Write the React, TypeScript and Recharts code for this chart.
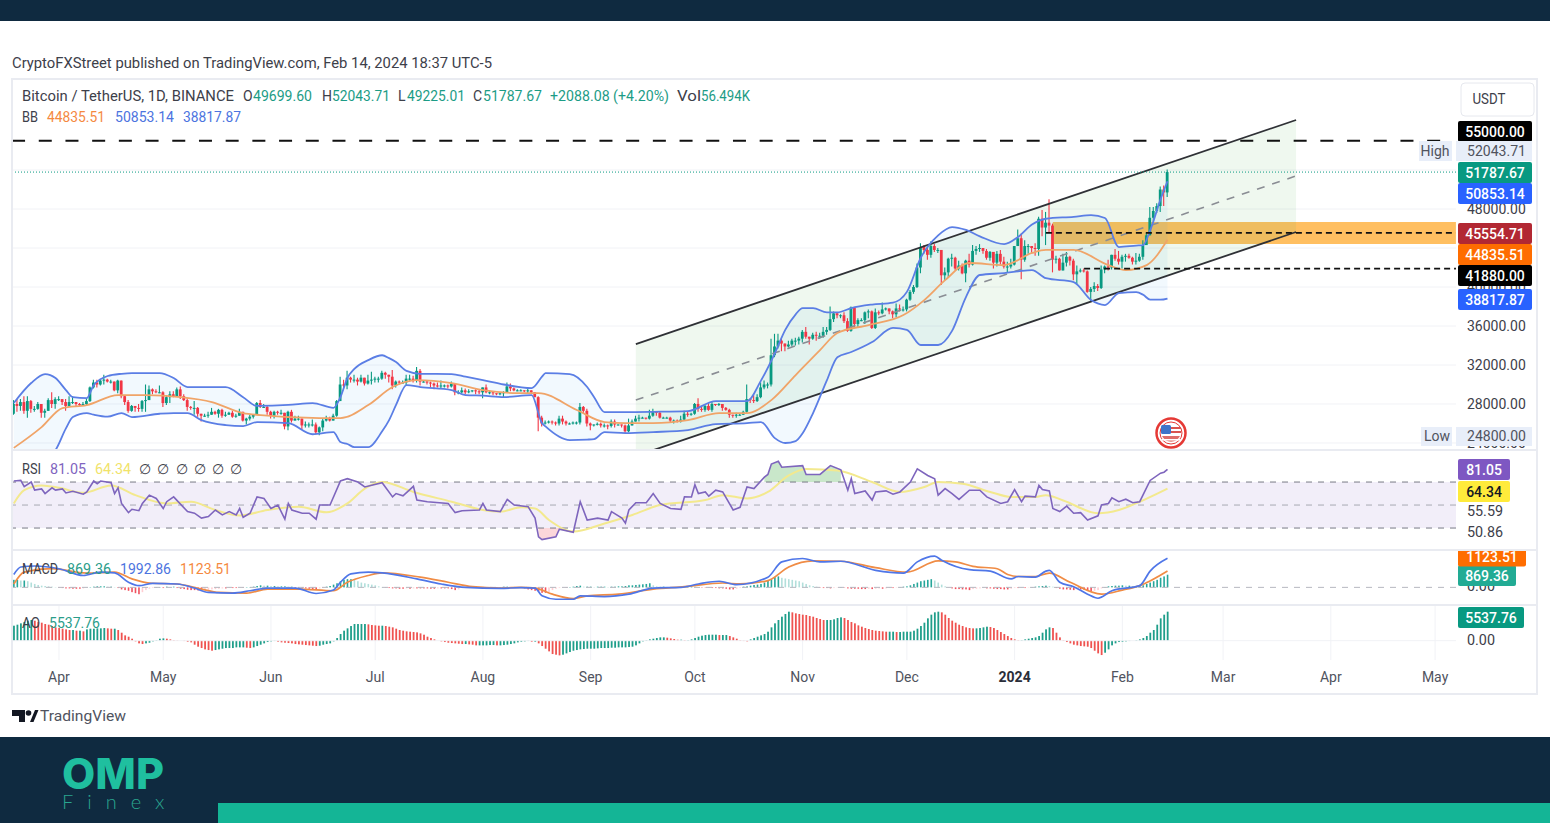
import React from "react";
import { ComposedChart, Line, Area, Bar, XAxis, YAxis, CartesianGrid, ReferenceLine, ReferenceArea } from "recharts";

// ---------- candles, thousands of USDT, one line per month (Mar 19 2023 .. Feb 14 2024)
const firstOpen = 27.0;
const closes = [
  28.0,27.8,28.2,27.3,28.3,27.5,27.5,28.0,27.1,27.3,28.4,28.0,28.5,
  28.5,28.2,27.8,28.2,28.2,28.0,27.9,28.0,28.3,29.7,30.2,30.0,30.4,30.5,30.3,30.3,29.4,30.4,28.8,28.2,27.3,27.8,27.6,27.5,28.3,28.4,29.5,29.3,29.2,29.2,
  28.1,28.7,29.0,28.8,29.5,28.8,28.4,27.7,27.6,27.6,27.0,26.8,26.8,26.9,27.2,27.0,27.4,26.8,26.9,27.1,26.7,26.8,27.2,26.3,26.5,26.7,26.9,28.1,27.7,27.7,27.2,
  26.8,27.2,27.1,27.1,25.7,27.2,26.3,26.5,26.5,25.8,25.9,25.9,25.9,25.1,25.6,26.3,26.5,26.3,26.8,28.3,30.0,29.9,30.7,30.5,30.5,30.3,30.7,30.1,30.4,30.5,
  30.6,30.6,31.2,31.0,30.8,29.9,30.3,30.2,30.2,30.6,30.6,30.4,31.4,30.3,30.3,30.2,30.1,29.9,29.8,29.9,29.9,29.8,30.1,29.2,29.2,29.4,29.2,29.3,29.4,29.3,29.2,
  29.7,29.2,29.2,29.1,29.0,29.1,29.2,29.8,29.6,29.4,29.4,29.4,29.3,29.4,29.2,28.7,26.6,26.0,26.1,26.2,26.1,26.0,26.5,26.2,26.0,26.0,26.1,26.1,27.7,27.3,26.0,
  25.8,25.9,25.97,25.8,25.8,25.75,26.2,25.9,25.9,25.8,25.2,25.8,26.2,26.5,26.6,26.6,26.5,26.8,27.2,27.1,26.6,26.6,26.6,26.3,26.3,26.2,26.4,27.0,26.9,27.0,
  28.0,27.5,27.4,27.8,27.4,28.0,27.9,28.0,27.6,27.4,26.9,26.8,26.9,26.9,27.2,28.5,28.4,28.3,28.7,29.7,30.0,30.0,33.0,33.9,34.5,34.2,33.9,34.1,34.5,34.5,34.7,
  35.4,34.9,34.7,35.1,35.0,35.0,35.4,35.6,36.7,37.3,37.1,37.1,36.5,35.5,37.9,36.2,36.6,36.6,37.4,37.5,35.8,37.4,37.3,37.7,37.8,37.5,37.2,37.8,37.7,37.7,
  38.7,39.5,40.0,42.0,44.1,43.8,43.3,44.2,43.8,43.8,41.2,41.5,42.9,43.0,41.9,42.2,41.4,42.7,42.3,43.7,43.9,44.0,43.7,43.0,43.6,42.5,43.4,42.6,42.1,42.1,42.3,
  44.2,45.0,42.8,44.2,44.2,44.0,43.9,47.0,46.1,46.6,46.3,42.8,42.9,41.7,42.5,43.1,42.7,41.3,41.6,41.7,41.6,39.5,39.8,40.1,39.9,41.8,42.1,42.0,43.3,42.9,42.6,
  43.1,43.2,43.0,42.6,42.7,43.1,44.3,45.3,47.1,47.8,48.3,50.0,49.7,51.79,
];
const highs = [
  28.4,28.5,28.5,28.8,28.8,28.4,27.8,28.2,28.0,27.5,28.6,29.2,28.7,
  28.8,28.5,28.5,28.8,28.8,28.2,28.1,28.2,28.5,29.8,30.5,30.5,30.6,31.0,30.6,30.5,30.3,30.5,30.4,28.9,28.4,27.9,27.8,28.0,28.4,30.0,29.9,29.6,29.5,29.9,
  29.3,28.9,29.3,29.3,29.7,29.8,29.0,28.6,27.8,28.3,27.7,27.0,27.0,27.2,27.6,27.3,27.5,27.5,27.2,27.2,27.3,27.0,27.5,27.2,26.6,26.9,26.9,28.2,28.4,28.0,27.8,
  27.3,27.3,27.3,27.4,27.1,27.3,27.4,26.8,26.8,26.5,26.2,26.1,26.4,26.1,25.7,26.5,26.8,26.7,27.0,28.4,30.8,30.5,31.4,30.8,31.0,30.7,31.0,30.7,31.0,31.3,
  30.8,30.8,31.4,31.3,31.0,31.5,30.4,30.4,30.4,31.0,31.0,30.9,31.8,31.6,30.4,30.4,30.3,30.2,30.2,30.4,30.0,30.0,30.3,30.1,29.4,29.7,29.6,29.5,29.4,29.5,29.5,
  29.7,30.0,29.4,29.3,29.1,29.2,29.3,30.2,30.1,29.7,29.5,29.5,29.4,29.7,29.4,29.2,28.8,26.8,26.3,26.3,26.3,26.2,26.8,26.8,26.3,26.1,26.2,26.2,28.1,27.8,27.5,
  26.1,25.9,26.1,26.1,26.0,25.9,26.4,26.4,25.9,25.9,25.9,26.5,26.4,26.8,26.9,26.7,26.6,27.4,27.5,27.2,27.2,26.7,26.7,26.7,26.4,26.4,26.8,27.3,27.2,27.1,
  28.1,28.6,27.7,27.9,28.1,28.3,28.0,28.1,28.0,27.7,27.5,26.9,27.1,27.0,27.3,30.0,28.6,28.9,29.0,30.2,30.4,30.2,34.7,35.2,35.2,34.8,34.2,34.5,34.7,34.8,34.9,
  35.6,35.9,34.9,35.3,35.4,35.3,35.9,35.9,38.0,37.5,37.4,37.2,37.4,36.8,38.0,37.9,36.8,36.8,37.5,37.7,37.6,37.8,37.6,38.4,37.9,37.8,37.6,38.3,38.2,38.0,
  38.8,39.7,40.2,42.4,44.5,44.3,44.0,44.7,44.4,44.0,43.8,42.0,43.0,43.4,43.1,42.7,42.4,42.8,43.4,44.3,44.2,44.4,44.0,43.9,43.7,43.6,43.7,43.8,43.1,42.6,42.9,
  44.2,45.9,45.5,44.8,44.4,44.2,44.5,47.2,47.9,47.7,49.0,46.5,43.2,43.0,43.4,43.6,43.2,42.9,42.2,41.9,41.9,41.7,40.0,40.5,40.3,42.2,42.2,42.8,43.3,43.9,43.7,
  43.3,43.4,43.4,43.1,43.5,43.4,44.8,45.6,48.2,48.2,48.6,50.3,50.4,52.04,
];
const lows = [
  26.9,27.2,27.3,27.0,26.6,27.1,27.2,27.4,26.6,26.6,27.3,27.6,27.5,
  28.3,27.9,27.3,27.7,28.0,27.7,27.8,27.9,27.9,28.2,29.6,29.7,29.9,30.0,30.2,30.1,29.3,29.1,28.6,27.9,27.1,27.2,27.2,27.2,27.2,27.2,28.4,29.0,29.1,29.1,
  27.7,27.9,28.1,28.7,28.8,28.5,28.3,27.3,27.4,26.9,26.7,26.2,26.7,26.6,26.9,26.9,26.6,26.6,26.7,26.9,26.6,26.6,26.8,26.2,25.9,26.3,26.5,26.9,27.6,27.6,26.9,
  26.5,26.5,26.9,26.9,25.4,25.3,26.1,26.3,26.3,25.4,25.6,25.6,25.7,24.9,24.8,25.2,26.2,26.2,26.3,26.7,28.3,29.6,29.5,30.2,30.2,29.9,30.2,29.9,30.0,30.0,
  30.2,30.2,30.5,30.6,30.2,29.5,29.7,30.0,30.1,29.9,30.3,30.2,30.2,29.9,30.2,30.0,29.7,29.5,29.7,29.6,29.7,29.6,29.7,28.9,29.0,29.1,29.0,29.1,29.2,29.0,29.0,
  28.6,29.1,29.0,28.9,28.9,28.9,28.7,29.2,29.3,29.3,29.3,29.3,29.2,29.1,29.1,28.7,25.2,25.7,25.9,26.0,25.9,25.8,25.8,25.9,25.8,25.9,25.9,25.9,25.9,27.0,25.7,
  25.3,25.7,25.8,25.6,25.6,25.4,25.6,25.6,25.8,25.6,25.0,25.1,25.8,26.2,26.2,26.5,26.4,26.4,26.7,26.8,26.5,26.5,26.5,26.1,26.0,26.1,26.1,26.3,26.7,26.8,
  26.9,27.2,27.2,27.2,27.3,27.2,27.8,27.8,27.3,27.3,26.6,26.6,26.6,26.8,26.9,27.1,28.1,28.1,28.2,28.6,29.5,29.6,29.8,32.8,33.7,33.4,33.4,33.8,33.9,34.0,34.1,
  34.3,34.7,34.1,34.6,34.5,34.7,34.8,35.1,35.5,36.4,36.8,36.8,36.3,35.4,35.4,35.9,35.9,36.5,36.2,36.8,35.7,35.7,37.1,37.2,37.6,37.2,36.8,36.9,37.5,37.5,
  37.5,38.6,39.3,39.9,41.4,43.4,42.8,43.0,43.6,43.5,40.2,40.7,41.0,42.1,41.7,41.7,41.3,40.5,42.0,42.2,43.3,43.6,43.4,42.8,42.7,41.9,42.1,42.3,41.9,41.5,41.9,
  42.2,44.2,40.8,42.6,43.4,43.4,43.2,43.2,45.2,44.3,45.6,41.5,42.4,41.7,41.7,42.1,42.2,40.7,40.3,41.5,41.5,39.4,38.5,39.5,39.6,39.8,41.4,41.7,41.8,42.7,42.3,
  41.9,42.6,42.9,42.3,42.3,42.6,42.8,44.3,45.3,46.8,47.6,47.7,48.3,49.23,
];

// ---------- Bollinger, read at these day numbers (0 = Mar 19 2023)
const bbDays = [0,5,9,12,15,17,21,23,27,31,34,42,46,50,54,61,66,70,79,86,92,94,96,98,102,106,108,110,113,117,126,130,135,141,149,152,153,160,165,167,170,176,184,194,202,211,215,219,222,225,227,230,234,237,241,247,253,257,261,266,270,274,278,285,289,293,297,305,310,314,318,323,325,327,330,332];
const bbUpper = [28.1,30.15,31.07,30.66,29.43,28.7,28.6,29.94,30.87,31.1,31.17,31.17,30.66,29.74,29.74,29.74,28.7,27.8,27.9,28.1,27.6,28.7,30.66,31.6,32.5,33.0,32.7,32.3,31.4,31.1,31.07,30.8,30.45,30.0,29.63,30.8,31.17,31.07,29.74,28.7,27.17,27.17,27.2,27.27,28.3,28.3,30.4,33.2,35.6,37.2,37.84,37.84,37.4,37.4,37.84,38.2,38.4,39.5,43.0,45.3,46.15,45.85,45.2,44.4,45.13,46.4,47.0,47.2,47.38,47.08,44.1,44.25,44.3,45.8,49.0,50.85];
const bbLower = [21.0,21.6,22.4,23.27,25.5,26.66,27.07,26.9,26.7,27.07,26.66,27.0,27.07,27.07,26.35,25.84,25.74,26.15,26.04,24.9,25.12,24.1,23.9,23.58,23.58,25.2,26.35,27.9,29.94,29.74,29.43,28.92,28.85,28.71,28.92,26.04,25.7,24.3,24.35,24.4,25.12,25.02,25.12,25.33,25.94,26.04,26.15,24.5,24.0,24.2,25.0,27.07,30.45,32.8,33.33,34.35,35.8,35.6,34.05,34.05,35.5,38.97,41.23,41.43,41.6,41.74,40.9,40.5,38.66,38.15,39.38,39.48,39.2,38.7,38.7,38.82];
const basisDays = [0,8,14,21,30,38,48,57,66,71,88,94,102,109,116,126,135,145,151,162,170,176,184,194,203,211,218,225,232,237,246,256,262,268,275,285,293,297,305,315,320,326,332];
const basisValues = [23.5,25.63,27.58,27.89,28.92,28.92,28.71,28.2,27.07,26.86,26.56,26.56,27.89,29.74,30.45,30.15,29.43,29.12,29.12,27.38,26.15,26.04,26.04,26.35,27.07,27.07,28.4,30.97,33.53,35.28,36.1,37.12,38.66,40.7,42.46,42.25,43.49,43.8,43.8,42.25,41.74,42.25,44.84];

// ---------- drawn channel and levels
const channelDays = [179, 369];
const channelUpper = [34.15, 57.13];
const channelMiddle = [28.4, 51.39];
const channelLower = [22.66, 45.64];
const resistanceLevel = 55000;
const lastClose = 51787.67;
const midLevel = 45554.71;
const supportLevel = 41880;
const zoneTop = 46670;
const zoneBottom = 44410;

// ---------- RSI
const rsiDays = [0,2,3,5,6,8,9,11,12,14,15,17,20,21,23,24,25,28,29,30,31,33,34,36,37,39,41,43,44,46,50,52,54,56,58,60,62,64,65,66,68,70,72,74,76,78,79,80,83,85,87,88,91,94,96,99,101,106,109,110,112,115,116,119,125,127,129,134,135,136,140,142,144,148,150,151,152,156,157,161,163,165,168,171,172,175,176,177,179,182,184,186,189,192,193,195,196,197,199,200,202,204,207,209,211,213,216,217,218,220,221,227,228,232,235,238,240,241,242,245,247,248,251,253,255,258,260,263,265,266,268,270,272,275,278,280,284,286,288,290,291,294,295,296,298,299,301,303,305,307,309,312,313,315,316,318,320,322,324,327,330,331,332];
const rsiValues = [70.9,71.4,66,70,63,64,60,65,63,64,60.5,62,59.4,61.4,70.9,68.6,70.9,69.4,60,65,51.4,43.4,46.3,45.1,51.4,58.6,55.7,47,52.9,57.1,44.3,42.9,38.6,40,45.7,41.4,44.3,41.4,47,39.4,42.9,57.1,55.7,47,50,37.7,51.4,45.7,42.9,42.9,37.7,50,50,70.9,72.9,70,65.7,69.4,57.1,60,58,66.3,54.3,52.9,51.4,43.4,45,45.7,51.4,45.7,44.3,54.9,50,48.6,38.6,22.3,20,22.3,29,26.3,52.9,37,38.6,37,44.3,38.6,34.3,45.7,52,52,60,51.4,47,46.3,57.1,57,67.7,60,61.4,57.7,62.9,61.4,45.7,48,65.7,64.3,74.3,76.6,85.7,88,82.9,84.3,76.6,76.6,84.3,80.6,62.9,72.9,60,62.3,54.3,61.4,62.3,59.4,61.4,70,81.4,75.7,72.9,58.6,64.3,60,54.9,62.9,62.9,57.1,51.4,52.9,63.4,52.9,57.7,57.1,67,63.4,62.3,47,44.3,49.1,42.9,43.4,37,40.6,50,51.4,56.3,52.9,55.1,52,52.9,71.4,77.7,78.6,81.05];
const rsiMaDays = [0,3,8,13,20,28,35,44,51,58,65,73,82,90,96,101,106,115,126,135,140,146,150,154,161,170,178,186,199,204,211,217,223,228,237,247,255,262,266,273,281,287,294,297,302,312,318,324,332];
const rsiMaValues = [51.4,62.9,67,65,60.6,67,58.6,51.4,52.9,45.7,40.9,45.7,48.6,43.7,51.4,64.3,70,61.4,52.9,45.7,44.3,48,47,37,27,34,41.4,50,54.3,58.6,55.7,61.4,75.7,81.4,80,70,61.4,65.7,70,68.6,61.4,57,57,58.6,54,42.9,45.7,52.9,64.34];

// ---------- MACD
const macdDays = [0,2,6,13,20,25,29,33,36,40,47,52,56,63,68,73,81,87,92,94,97,102,106,116,123,130,140,146,150,152,156,161,163,170,177,184,192,197,203,208,217,221,227,232,238,248,256,260,265,267,275,281,287,289,294,297,298,301,305,309,312,316,324,327,332];
const macdValues = [885,1398,1468,1280,815,1048,1000,350,116,280,233,-47,-350,-396,-233,-47,-47,-420,-186,350,930,1048,1000,582,233,0,-70,-20,-47,-580,-815,-815,-580,-630,-466,-47,0,233,420,186,700,1750,1980,1750,1794,1165,980,1750,2144,1864,1212,1118,582,746,700,1118,1165,350,47,-466,-745,-233,117,1118,1992.86];
const signalDays = [0,3,11,21,29,34,39,47,54,59,67,73,82,92,96,102,106,117,125,132,140,146,150,155,161,165,174,184,193,204,209,217,223,230,238,248,257,266,271,276,283,286,289,294,298,304,313,319,324,332];
const signalValues = [233,1048,1280,978,1048,582,300,233,-116,-350,-396,-116,-116,-233,350,815,1000,700,350,47,-47,0,-47,-466,-770,-580,-466,-116,47,300,233,466,1398,1817,1794,1350,1048,1817,1747,1445,1280,885,746,746,978,350,-466,-186,117,1123.51];
const histUnit = 23.5;
const histReadings = [
  22,22,20,20,18,14,10,7,5,4, 3,2,1,-1,-2,-3,-3,-4,-4,-4, -3,-1,1,2,3,3,3,2,2,1, -2,-6,-8,-10,-14,-17,-20,-14,-8,-4,
  -2,1,1,-2,2,1,2,-2,-4,-5, -7,-8,-8,-9,-10,-8,-7,-6,-5,-4, -3,-3,-2,-2,-2,-1,-1,1,1,2, 4,6,5,5,4,4,3,3,3,2,
  2,-2,-3,-3,-3,-4,-5,-5,-3,-2, 2,4,8,12,18,22,24,24,22,18, 14,12,10,8,6,3,1,-1,-2,-3, -3,-4,-4,-3,-4,-3,-3,-3,-3,-3,
  -4,-4,-3,-3,-3,-3,-5,-8,-6,-2, -1,-1,-1,-1,-1,1,1,1,-1,-1, 1,2,2,1,1,0,-2,-3,-6,-8, -10,-12,-16,-16,-14,-8,-4,-2,-1,-1,
  1,2,4,5,2,2,2,1,2,2, 2,1,2,2,3,3,4,6,6,7, 8,9,10,12,6,3,2,2,1,1, 1,1,1,2,3,3,2,1,-1,-1,
  -1,-2,-2,-3,-3,-4,-6,-6,-4,-2, 2,3,5,7,8,10,14,20,24,30, 32,28,26,24,22,20,18,14,10,6, 4,2,-1,-2,-2,-3,-2,-1,1,-1,
  -3,-4,-4,-4,-5,-5,-4,-5,-4,-3, -4,-3,-2,-2,-1,1,2,3,6,10, 14,18,20,22,24,20,14,8,3,1, -3,-5,-5,-6,-6,-8,-5,-4,-3,-2,
  -3,-3,-4,-5,-5,-6,-6,-4,-2,-2, -1,-2,-1,1,2,3,4,5,4,2, -2,-4,-6,-6,-7,-8,-5,-6,-7,-9, -11,-10,-8,-3,1,3,4,5,5,6,
  5,5,4,4,5,6,10,14,18,22, 28,32,37,
];

// ---------- Awesome Oscillator
const aoUnit = 63.65;
const aoReadings = [
  45,48,52,56,60,62,60,56,54,50, 48,44,40,38,36,34,32,32,30,30, 28,34,36,36,37,37,38,37,36,36, 32,24,16,12,6,-2,-8,-10,-8,-6,
  -2,2,6,7,6,4,2,1,0,-1, -3,-5,-12,-18,-22,-26,-28,-30,-28,-26, -24,-22,-22,-22,-20,-20,-20,-21,-22,-20, -16,-12,-8,-4,-2,-1,-3,-5,-6,-7,
  -8,-10,-11,-12,-13,-14,-15,-16,-15,-12, -10,-8,-2,8,20,30,37,44,50,50, 50,50,49,47,46,45,45,44,42,40, 36,32,30,28,27,26,25,22,18,12,
  8,4,0,-2,-4,-6,-7,-8,-9,-10, -10,-11,-12,-14,-14,-14,-14,-13,-13,-14, -14,-13,-12,-10,-8,-5,-3,-2,-1,-3, -3,-8,-16,-24,-32,-40,-42,-44,-42,-38,
  -34,-30,-28,-26,-25,-24,-24,-24,-23,-22, -22,-22,-21,-21,-20,-20,-20,-19,-18,-14, -8,-2,2,4,6,8,10,10,9,7, 5,3,3,2,2,4,8,12,15,17,
  18,18,18,17,17,17,14,10,6,2, -1,-2,4,8,12,16,20,27,40,52, 62,72,80,87,85,82,80,78,77,74, 72,68,65,62,62,62,64,68,70,68,
  62,56,52,46,42,38,35,32,30,29, 28,27,27,27,26,26,27,27,27,30, 36,44,54,67,78,85,87,85,78,68, 60,54,48,44,40,38,37,37,38,40,
  42,41,38,32,26,20,14,8,4,2, 2,4,6,8,10,14,24,34,40,38, 24,10,2,-4,-8,-12,-14,-16,-17,-18, -22,-30,-38,-43,-36,-26,-14,-8,-4,-3,
  -2,-1,0,2,4,8,14,24,32,48, 67,78,87,
];

// ---------- axis
const monthDays = [13,43,74,104,135,166,196,227,257,288,319,348,379,409];
const monthLabels = ["Apr","May","Jun","Jul","Aug","Sep","Oct","Nov","Dec","2024","Feb","Mar","Apr","May"];
const priceTicks = [24000,28000,32000,36000,40000,44000,48000,52000];

// ---------- colours
const UP = "#089981", DOWN = "#f23645", GRID = "#f1f2f6", SEP = "#e9ebf1";
const BBLUE = "#5b7ee5", BORANGE = "#f0a468";
const DOMAIN_X: [number, number] = [-0.518, 415.02];
const K = 1000;

const newRows = () => Array.from({ length: 370 }, (_, d) => ({ d } as any));

const mainRows = newRows();
closes.forEach((c, i) => {
  const open = i === 0 ? firstOpen : closes[i - 1];
  mainRows[i].open = open * K;
  mainRows[i].close = c * K;
  mainRows[i].high = Math.max(highs[i], open, c) * K;
  mainRows[i].low = Math.min(lows[i], open, c) * K;
});
bbDays.forEach((d, i) => {
  mainRows[d].upper = bbUpper[i] * K;
  mainRows[d].lower = bbLower[i] * K;
  mainRows[d].band = [bbLower[i] * K, bbUpper[i] * K];
});
basisDays.forEach((d, i) => { mainRows[d].basis = basisValues[i] * K; });
channelDays.forEach((d, i) => {
  mainRows[d].chUp = channelUpper[i] * K;
  mainRows[d].chMid = channelMiddle[i] * K;
  mainRows[d].chLow = channelLower[i] * K;
  mainRows[d].chan = [channelLower[i] * K, channelUpper[i] * K];
});

const rsiRows = newRows();
rsiDays.forEach((d, i) => {
  rsiRows[d].rsi = rsiValues[i];
  if (d >= 216 && d <= 238 && rsiValues[i] > 70) rsiRows[d].ob = [70, rsiValues[i]];
  if (d >= 150 && d <= 157 && rsiValues[i] < 30) rsiRows[d].os = [rsiValues[i], 30];
});
rsiMaDays.forEach((d, i) => { rsiRows[d].ma = rsiMaValues[i]; });

const macdRows = newRows();
macdDays.forEach((d, i) => { macdRows[d].macd = macdValues[i]; });
signalDays.forEach((d, i) => { macdRows[d].signal = signalValues[i]; });
histReadings.forEach((h, i) => {
  const prev = i ? histReadings[i - 1] : h;
  macdRows[i].hist = h * histUnit;
  macdRows[i].color = h >= 0 ? (h >= prev ? "#26a69a" : "#b2dfdb") : (h <= prev ? "#f0525f" : "#ffcdd2");
});

const aoRows = newRows();
aoReadings.forEach((h, i) => {
  aoRows[i].ao = h * aoUnit;
  aoRows[i].color = i === 0 || h >= aoReadings[i - 1] ? "#1f9e8a" : "#ef5350";
});

const Candle = (p: any) => {
  const r = p.payload;
  if (!r || r.high == null) return null;
  const k = p.height / (r.high - r.low);
  const yo = p.y + (r.high - r.open) * k;
  const yc = p.y + (r.high - r.close) * k;
  const color = r.close >= r.open ? UP : DOWN;
  const cx = p.x + p.width / 2;
  return (
    <g>
      <line x1={cx} x2={cx} y1={p.y} y2={p.y + p.height} stroke={color} strokeWidth={1.1} />
      <rect x={p.x} y={Math.min(yo, yc)} width={p.width} height={Math.max(1, Math.abs(yo - yc))} fill={color} />
    </g>
  );
};
const ColorBar = (p: any) => {
  const r = p.payload;
  if (!r || !r.color) return null;
  return <rect x={p.x} y={Math.min(p.y, p.y + p.height)} width={p.width} height={Math.abs(p.height)} fill={r.color} />;
};

const noDot = { dot: false as const, activeDot: false as const, isAnimationActive: false, connectNulls: true };

const grid = <CartesianGrid stroke={GRID} strokeWidth={1} syncWithTicks />;
const hiddenX = <XAxis dataKey="d" type="number" domain={DOMAIN_X} allowDataOverflow ticks={monthDays} interval={0} tick={false} tickLine={false} axisLine={false} height={0} />;

const paneStyle = (top: number): React.CSSProperties => ({ position: "absolute", left: 12, top });

const T = ({ x, y, w, c = "#3d404a", s = 14, a = "start", b = 400, f = "Roboto", children }: any) => (
  <text x={x} y={y} fill={c} fontSize={s} fontFamily={f} fontWeight={b} textAnchor={a} dominantBaseline="central"
    {...(w ? { textLength: w, lengthAdjust: "spacingAndGlyphs" } : {})}>{children}</text>
);
const Badge = ({ x = 1458, y, w = 74, bg, c = "#fff", h = 21, children }: any) => (
  <g>
    <rect x={x} y={y - h / 2 + 0.5} width={w} height={h} fill={bg} rx={2} />
    <T x={x + w / 2} y={y + 0.5} a="middle" c={c} b={500}>{children}</T>
  </g>
);

const MonthTick = (p: any) => {
  const i = monthDays.indexOf(p.payload.value);
  const label = monthLabels[i];
  return (
    <text x={p.x} y={p.y + 11} textAnchor="middle" dominantBaseline="central" fontFamily="Roboto" fontSize={14}
      fontWeight={label === "2024" ? 700 : 400} fill={label === "2024" ? "#2a2e39" : "#50535e"}>{label}</text>
  );
};

const Overlay = () => (
  <svg width={1550} height={823} style={{ position: "absolute", left: 0, top: 0, pointerEvents: "none" }}>
    {/* page furniture */}
    <rect x={0} y={0} width={1550} height={21} fill="#0f2a40" />
    <rect x={0} y={737} width={1550} height={86} fill="#0f2a40" />
    <rect x={218} y={803} width={1332} height={20} fill="#14b596" />
    <T x={62} y={773} w={102} s={42} b={800} f="Inter" c="#1fbf9f">OMP</T>
    <text x={62} y={801} fill="#2aa58f" fontSize={20} fontFamily="Lato" fontWeight={300} letterSpacing={14} dominantBaseline="central">Finex</text>
    <T x={12} y={63} w={480} c="#3d404a">CryptoFXStreet published on TradingView.com, Feb 14, 2024 18:37 UTC-5</T>

    {/* frame */}
    <rect x={12} y={79} width={1525} height={615} fill="none" stroke={SEP} strokeWidth={2} />
    <line x1={12} x2={1537} y1={450} y2={450} stroke={SEP} strokeWidth={2} />
    <line x1={12} x2={1537} y1={550} y2={550} stroke={SEP} strokeWidth={2} />
    <line x1={12} x2={1537} y1={605} y2={605} stroke={SEP} strokeWidth={2} />

    {/* legends */}
    <T x={22} y={96} w={212}>Bitcoin / TetherUS, 1D, BINANCE</T>
    <T x={243} y={96}>O</T><T x={253} y={96} w={59} c="#1c9c86">49699.60</T>
    <T x={322} y={96}>H</T><T x={332} y={96} w={58} c="#1c9c86">52043.71</T>
    <T x={398} y={96}>L</T><T x={407} y={96} w={58} c="#1c9c86">49225.01</T>
    <T x={473} y={96}>C</T><T x={483} y={96} w={59} c="#1c9c86">51787.67</T>
    <T x={550} y={96} w={119} c="#1c9c86">+2088.08 (+4.20%)</T>
    <T x={677} y={96} w={24}>Vol</T><T x={701} y={96} w={49} c="#1c9c86">56.494K</T>
    <T x={22} y={117} w={16}>BB</T>
    <T x={47} y={117} w={58} c="#f5893f">44835.51</T>
    <T x={115} y={117} w={59} c="#4c74e0">50853.14</T>
    <T x={183} y={117} w={58} c="#4c74e0">38817.87</T>

    <T x={22} y={469} w={19}>RSI</T>
    <T x={50} y={469} w={36} c="#8064c0">81.05</T>
    <T x={95} y={469} w={36} c="#f1e36a">64.34</T>
    {[145, 163, 182, 200, 218, 236].map((x) => <T key={x} x={x} y={469} a="middle">∅</T>)}

    <T x={22} y={569} w={36}>MACD</T>
    <T x={67} y={569} w={44} c="#2a9d8a">869.36</T>
    <T x={120} y={569} w={51} c="#4c74e0">1992.86</T>
    <T x={180} y={569} w={51} c="#f5893f">1123.51</T>

    <T x={22} y={623} w={18}>AO</T>
    <T x={49} y={623} w={51} c="#2a9d8a">5537.76</T>

    {/* right scale */}
    <rect x={1461} y={83} width={73} height={33} rx={4} fill="#fff" stroke="#e6e8ee" />
    <T x={1489} y={99} a="middle" s={14} w={33}>USDT</T>

    <Badge y={131} bg="#000">55000.00</Badge>
    <rect x={1419} y={141} width={33} height={20} fill="#e8eef9" />
    <T x={1435} y={151} a="middle" c="#50535e">High</T>
    <rect x={1456} y={141} width={76} height={20} fill="#e8eef9" />
    <T x={1467} y={151} w={59} c="#50535e">52043.71</T>
    <Badge y={172} bg="#089981">51787.67</Badge>
    <Badge y={193} bg="#2962ff">50853.14</Badge>
    <Badge y={233} bg="#b22833">45554.71</Badge>
    <Badge y={254} bg="#ff6d00">44835.51</Badge>
    <Badge y={275} bg="#000">41880.00</Badge>
    <Badge y={299} bg="#2962ff">38817.87</Badge>
    <rect x={1421} y={427} width={31} height={19} fill="#e8eef9" />
    <T x={1437} y={436} a="middle" c="#50535e">Low</T>
    <rect x={1456} y={427} width={76} height={19} fill="#e8eef9" />
    <T x={1467} y={436} w={59} c="#50535e">24800.00</T>

    <Badge y={469} w={52} bg="#7e57c2">81.05</Badge>
    <Badge y={491} w={52} bg="#ffeb3b" c="#131722">64.34</Badge>
    <T x={1467} y={511} w={36}>55.59</T>
    <T x={1467} y={532} w={36}>50.86</T>

    <T x={1467} y={586} w={28}>0.00</T>
    <Badge y={575} w={58} bg="#22ab94">869.36</Badge>
    <Badge y={556} w={68} bg="#ff6d00" h={20}>1123.51</Badge>
    <rect x={1456} y={541} width={80} height={9} fill="#fff" />
    <line x1={1456} x2={1537} y1={550} y2={550} stroke={SEP} strokeWidth={2} />

    <Badge y={617} w={66} bg="#089981">5537.76</Badge>
    <T x={1467} y={640} w={28}>0.00</T>

    {/* event flag */}
    <circle cx={1171} cy={433} r={14.5} fill="#fff" stroke="#e53935" strokeWidth={2.5} />
    <circle cx={1171} cy={433} r={11} fill="#fff" stroke="#e53935" strokeWidth={1} />
    <rect x={1161} y={425} width={10} height={9} rx={1.5} fill="#3f74c9" />
    <rect x={1171} y={427} width={10} height={2} fill="#d9534f" />
    <rect x={1171} y={431} width={10} height={2} fill="#d9534f" />
    <path d="M1162 436 H1180 A10 10 0 0 1 1162 436 Z" fill="#d9534f" opacity={0.85} />
    <rect x={1162} y={439} width={18} height={1.5} fill="#fff" />

    {/* brand */}
    <path d="M12 710 H25 V722 H19 V716 H12 Z" fill="#131722" />
    <circle cx={28.5} cy={713} r={2.8} fill="#131722" />
    <path d="M30 722 L35 710 H38.5 L33.5 722 Z" fill="#131722" />
    <T x={40} y={716} w={86} s={15} c="#50535e">TradingView</T>
  </svg>
);

export default function App() {
  return (
    <div style={{ position: "absolute", left: 0, top: 0, width: 1550, height: 823, background: "#fff", overflow: "hidden" }}>
      {/* price pane */}
      <div style={paneStyle(80)}>
        <ComposedChart width={1525} height={370} data={mainRows} margin={{ top: 0, right: 0, bottom: 0, left: 0 }}>
          {hiddenX}
          <YAxis orientation="right" width={81} domain={[23282, 61231]} allowDataOverflow ticks={priceTicks} interval={0}
            tickFormatter={(v: number) => v.toFixed(2)} tickLine={false} axisLine={false} tickMargin={5}
            tick={{ fontFamily: "Roboto", fontSize: 14, fill: "#3d404a", textAnchor: "start" }} />
          {grid}
          <ReferenceArea x1={299} x2={415} y1={zoneBottom} y2={zoneTop} fill="#ff9800" fillOpacity={0.62} stroke="none" />
          <Area dataKey="chan" stroke="none" fill="#4caf50" fillOpacity={0.09} {...noDot} />
          <Area dataKey="band" type="monotone" stroke="none" fill="#2196f3" fillOpacity={0.06} {...noDot} />
          <Line dataKey="chMid" stroke="#8a8d94" strokeWidth={1.6} strokeDasharray="8 8" {...noDot} />
          <Line dataKey="chUp" stroke="#2f3136" strokeWidth={1.8} {...noDot} />
          <Line dataKey="chLow" stroke="#2f3136" strokeWidth={1.8} {...noDot} />
          <Line dataKey="basis" type="monotone" stroke={BORANGE} strokeWidth={1.8} {...noDot} />
          <Line dataKey="upper" type="monotone" stroke={BBLUE} strokeWidth={1.8} {...noDot} />
          <Line dataKey="lower" type="monotone" stroke={BBLUE} strokeWidth={1.8} {...noDot} />
          <Bar dataKey={(r: any) => (r.high == null ? null : [r.low, r.high])} barSize={2.8} shape={<Candle />} isAnimationActive={false} />
          <ReferenceLine segment={[{ x: 297, y: midLevel }, { x: 415, y: midLevel }]} stroke="#111" strokeWidth={1.8} strokeDasharray="6 4" isFront />
          <ReferenceLine segment={[{ x: 308, y: supportLevel }, { x: 415, y: supportLevel }]} stroke="#111" strokeWidth={1.8} strokeDasharray="6 4" isFront />
          <ReferenceLine segment={[{ x: -0.5, y: resistanceLevel }, { x: 412.7, y: resistanceLevel }]} stroke="#111" strokeWidth={2} strokeDasharray="13 13.7" isFront />
          <ReferenceLine y={lastClose} stroke="#089981" strokeWidth={1} strokeDasharray="1 2" isFront />
        </ComposedChart>
      </div>

      {/* RSI pane */}
      <div style={paneStyle(451)}>
        <ComposedChart width={1525} height={99} data={rsiRows} margin={{ top: 0, right: 0, bottom: 0, left: 0 }}>
          {hiddenX}
          <YAxis orientation="right" width={81} domain={[10.9, 97]} allowDataOverflow ticks={[]} tickLine={false} axisLine={false} />
          <CartesianGrid stroke={GRID} horizontal={false} syncWithTicks />
          <ReferenceArea y1={30} y2={70} fill="#7e57c2" fillOpacity={0.1} stroke="none" />
          <ReferenceLine y={70} stroke="#787b86" strokeDasharray="6 6" />
          <ReferenceLine y={50} stroke="#a8aab2" strokeDasharray="6 6" />
          <ReferenceLine y={30} stroke="#787b86" strokeDasharray="6 6" />
          <Area dataKey="ob" stroke="none" fill="#4caf50" fillOpacity={0.3} {...noDot} />
          <Area dataKey="os" stroke="none" fill="#f23645" fillOpacity={0.2} {...noDot} />
          <Line dataKey="ma" type="monotone" stroke="#f3e98e" strokeWidth={2} {...noDot} />
          <Line dataKey="rsi" stroke="#7e65bd" strokeWidth={1.6} {...noDot} />
        </ComposedChart>
      </div>

      {/* MACD pane */}
      <div style={paneStyle(551)}>
        <ComposedChart width={1525} height={54} data={macdRows} margin={{ top: 0, right: 0, bottom: 0, left: 0 }}>
          {hiddenX}
          <YAxis orientation="right" width={81} domain={[-1210, 2496]} allowDataOverflow ticks={[]} tickLine={false} axisLine={false} />
          <CartesianGrid stroke={GRID} horizontal={false} syncWithTicks />
          <ReferenceLine y={0} stroke="#b6b8c0" strokeDasharray="6 6" />
          <Bar dataKey="hist" barSize={1.6} shape={<ColorBar />} isAnimationActive={false} />
          <Line dataKey="signal" type="monotone" stroke="#f08c45" strokeWidth={1.7} {...noDot} />
          <Line dataKey="macd" type="monotone" stroke="#4f76e8" strokeWidth={1.7} {...noDot} />
        </ComposedChart>
      </div>

      {/* AO pane and time axis */}
      <div style={paneStyle(606)}>
        <ComposedChart width={1525} height={88} data={aoRows} margin={{ top: 0, right: 0, bottom: 0, left: 0 }}>
          <XAxis dataKey="d" type="number" domain={DOMAIN_X} allowDataOverflow ticks={monthDays} interval={0}
            tick={<MonthTick />} tickLine={false} axisLine={false} height={34} tickMargin={0} />
          <YAxis orientation="right" width={81} domain={[-3683, 6620]} allowDataOverflow ticks={[]} tickLine={false} axisLine={false} />
          <CartesianGrid stroke={GRID} horizontal={false} syncWithTicks />
          <ReferenceLine y={0} stroke={GRID} />
          <Bar dataKey="ao" barSize={1.8} shape={<ColorBar />} isAnimationActive={false} />
        </ComposedChart>
      </div>

      <Overlay />
    </div>
  );
}
